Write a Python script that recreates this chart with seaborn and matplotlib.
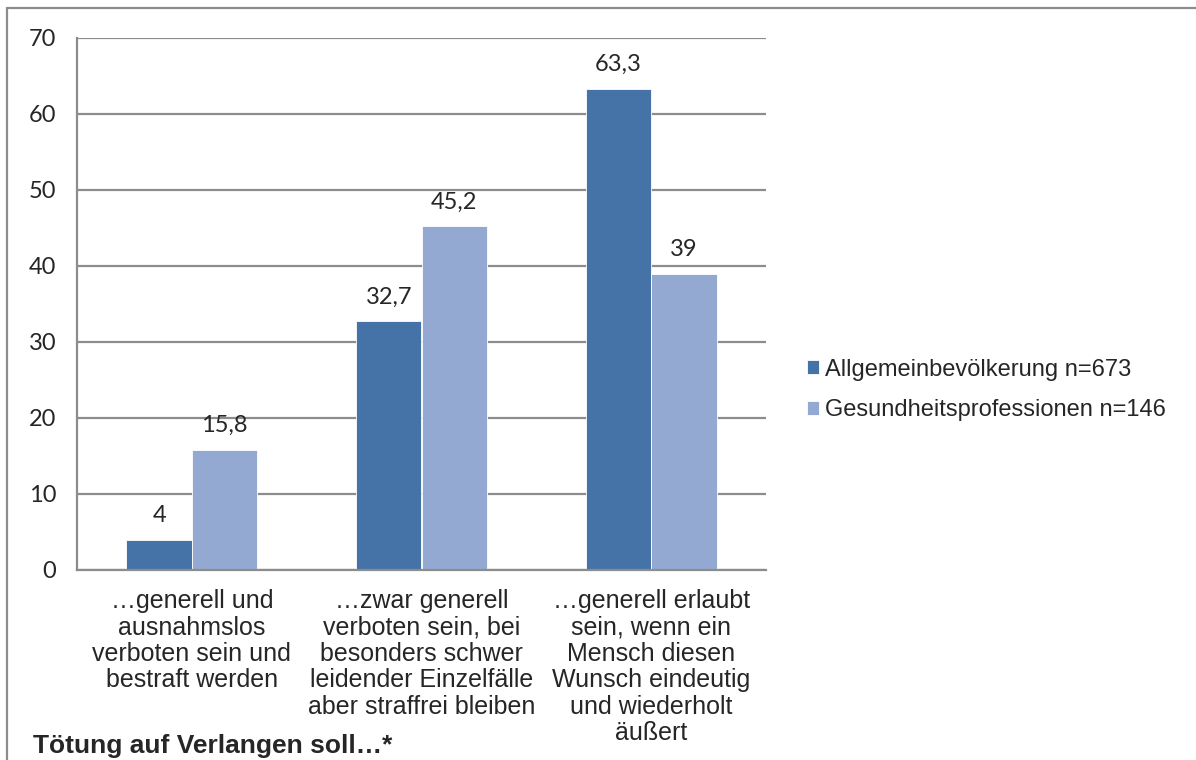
import matplotlib
matplotlib.use("Agg")
import pandas as pd
import matplotlib.pyplot as plt
import seaborn as sns

CATEGORIES = [
    "…generell und\nausnahmslos\nverboten sein und\nbestraft werden",
    "…zwar generell\nverboten sein, bei\nbesonders schwer\nleidender Einzelfälle\naber straffrei bleiben",
    "…generell erlaubt\nsein, wenn ein\nMensch diesen\nWunsch eindeutig\nund wiederholt\näußert",
]
SERIES = ["Allgemeinbevölkerung n=673", "Gesundheitsprofessionen n=146"]
ALLGEMEIN = [4, 32.7, 63.3]
GESUNDHEIT = [15.8, 45.2, 39]
COLORS = ["#4573A7", "#94A9D1"]
Y_TICKS = [0, 10, 20, 30, 40, 50, 60, 70]

sns.set_style("white")
plt.rcParams["font.family"] = ["Liberation Sans", "DejaVu Sans"]

df = pd.DataFrame({
    "kategorie": CATEGORIES * 2,
    "gruppe": [SERIES[0]] * 3 + [SERIES[1]] * 3,
    "wert": ALLGEMEIN + GESUNDHEIT,
})

fig = plt.figure(figsize=(11.96, 7.6), dpi=100)
ax = fig.add_axes([77 / 1196, 1 - 570 / 760, (766 - 77) / 1196, (570 - 38) / 760])

sns.barplot(data=df, x="kategorie", y="wert", hue="gruppe", order=CATEGORIES,
            hue_order=SERIES, palette=COLORS, width=0.57, gap=0,
            saturation=1, ax=ax, edgecolor="white", linewidth=0.6)

grid_c = "#8c8c8c"
ax.set_ylim(0, 70)
ax.set_xlim(-0.5, 2.5)
ax.set_yticks(Y_TICKS)
ax.set_yticklabels([str(t) for t in Y_TICKS], family="Lato", fontsize=17)
ax.yaxis.grid(True, color=grid_c, linewidth=1.6)
ax.set_axisbelow(True)
ax.tick_params(axis="y", length=8, width=1.6, color=grid_c, pad=7)

# Kategorienbeschriftung mittig, Teilstriche an den Grenzen
ax.set_xticks(range(3))
ax.set_xticklabels(CATEGORIES, fontsize=18, linespacing=1.12, va="top")
ax.tick_params(axis="x", which="major", length=0, pad=14)
ax.set_xticks([-0.5, 0.5, 1.5, 2.5], minor=True)
ax.tick_params(axis="x", which="minor", length=7, width=1.6, color=grid_c)

for side in ["top", "right"]:
    ax.spines[side].set_visible(False)
for side in ["left", "bottom"]:
    ax.spines[side].set_color(grid_c)
    ax.spines[side].set_linewidth(1.6)

ax.set_xlabel("")
ax.set_ylabel("")

for cont in ax.containers:
    ax.bar_label(cont, fmt=lambda v: f"{v:g}".replace(".", ","),
                 padding=10, fontsize=17, family="Lato")

ax.legend(loc="center left", bbox_to_anchor=(786 / 1196, 1 - 390 / 760),
          bbox_transform=fig.transFigure, frameon=False, fontsize=17,
          handlelength=0.5, handleheight=0.5, handletextpad=0.25,
          labelspacing=0.8)

fig.text(33 / 1196, 1 - 746 / 760, "Tötung auf Verlangen soll…*",
         fontsize=19, fontweight="bold", va="center", ha="left")

# Rahmen des Diagrammbereichs (oben und links sichtbar)
fig.add_artist(plt.Line2D([7 / 1196, 1], [1 - 8 / 760, 1 - 8 / 760],
                          transform=fig.transFigure, color=grid_c, linewidth=1.6))
fig.add_artist(plt.Line2D([7 / 1196, 7 / 1196], [0, 1 - 8 / 760],
                          transform=fig.transFigure, color=grid_c, linewidth=1.6))

fig.savefig("out.png", dpi=100)
